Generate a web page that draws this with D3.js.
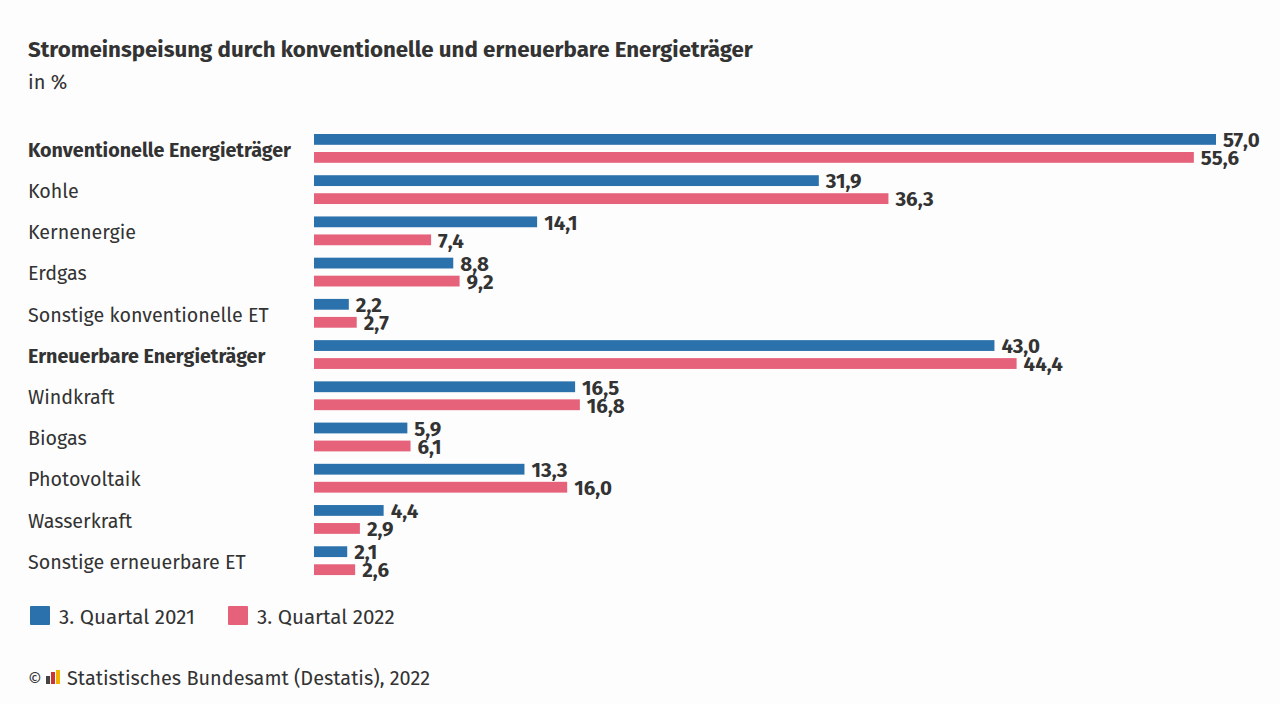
<!DOCTYPE html>
<html><head><meta charset="utf-8">
<script src="https://cdn.jsdelivr.net/npm/d3@7/dist/d3.min.js"></script>
<style>html,body{margin:0;padding:0;background:#fdfdfd}svg{display:block}text{font-family:"Fira Sans","Noto Sans",sans-serif}</style>
</head><body><svg id="c" width="1280" height="704"></svg>
<script>
const categories=["Konventionelle Energieträger","Kohle","Kernenergie","Erdgas","Sonstige konventionelle ET","Erneuerbare Energieträger","Windkraft","Biogas","Photovoltaik","Wasserkraft","Sonstige erneuerbare ET"];
const boldCategories=["Konventionelle Energieträger","Erneuerbare Energieträger"];
const q2021=[57.0,31.9,14.1,8.8,2.2,43.0,16.5,5.9,13.3,4.4,2.1];
const q2022=[55.6,36.3,7.4,9.2,2.7,44.4,16.8,6.1,16.0,2.9,2.6];
const seriesNames=["3. Quartal 2021","3. Quartal 2022"];
const colors=["#2b71ab","#e5627a"];
const svg=d3.select("#c");
const x=d3.scaleLinear().domain([0,57]).range([314,1216]);
const y=d3.scaleBand().domain(categories).range([129.5,583]).paddingInner(0).paddingOuter(0);
const fmt=d3.format(".1f");
const de=v=>fmt(v).replace(".",",");
svg.append("text").attr("x",28).attr("y",57).attr("font-size",22.3).attr("font-weight",700).attr("fill","#333").text("Stromeinspeisung durch konventionelle und erneuerbare Energieträger");
svg.append("text").attr("x",28).attr("y",89).attr("font-size",20).attr("fill","#333").text("in %");
const row=svg.selectAll("g.r").data(categories).join("g").attr("class","r");
row.append("text").attr("x",28).attr("y",d=>y(d)+y.bandwidth()/2+6.5).attr("font-size",19.7)
 .attr("font-weight",d=>boldCategories.includes(d)?700:400).attr("fill","#333").text(d=>d);
[q2021,q2022].forEach((vals,s)=>{
 const off=s===0?4.5:22.5;
 const g=svg.append("g");
 g.selectAll("rect").data(vals).join("rect").attr("x",x(0)).attr("y",(d,i)=>y(categories[i])+off).attr("width",d=>x(d)-x(0)).attr("height",10.8).attr("fill",colors[s]);
 g.selectAll("text").data(vals).join("text").attr("x",d=>x(d)+7).attr("y",(d,i)=>y(categories[i])+off+13.2).attr("font-size",20.5).attr("font-weight",700).attr("fill","#333").text(de);
});
const lx=[30,228];
seriesNames.forEach((n,i)=>{
 svg.append("rect").attr("x",lx[i]).attr("y",606).attr("width",20).attr("height",19).attr("rx",1).attr("fill",colors[i]);
 svg.append("text").attr("x",lx[i]+29).attr("y",624).attr("font-size",20.6).attr("fill","#333").text(n);
});
svg.append("text").attr("x",28).attr("y",685).attr("font-size",17).attr("fill","#333").text("©");
const logo=svg.append("g");
[[46,8,"#444"],[51,12,"#c33"],[56,14,"#f0b400"]].forEach(b=>logo.append("rect").attr("x",b[0]).attr("y",684-b[1]).attr("width",4).attr("height",b[1]).attr("fill",b[2]));
svg.append("text").attr("x",67).attr("y",685).attr("font-size",19.9).attr("fill","#333").text("Statistisches Bundesamt (Destatis), 2022");
</script></body></html>
